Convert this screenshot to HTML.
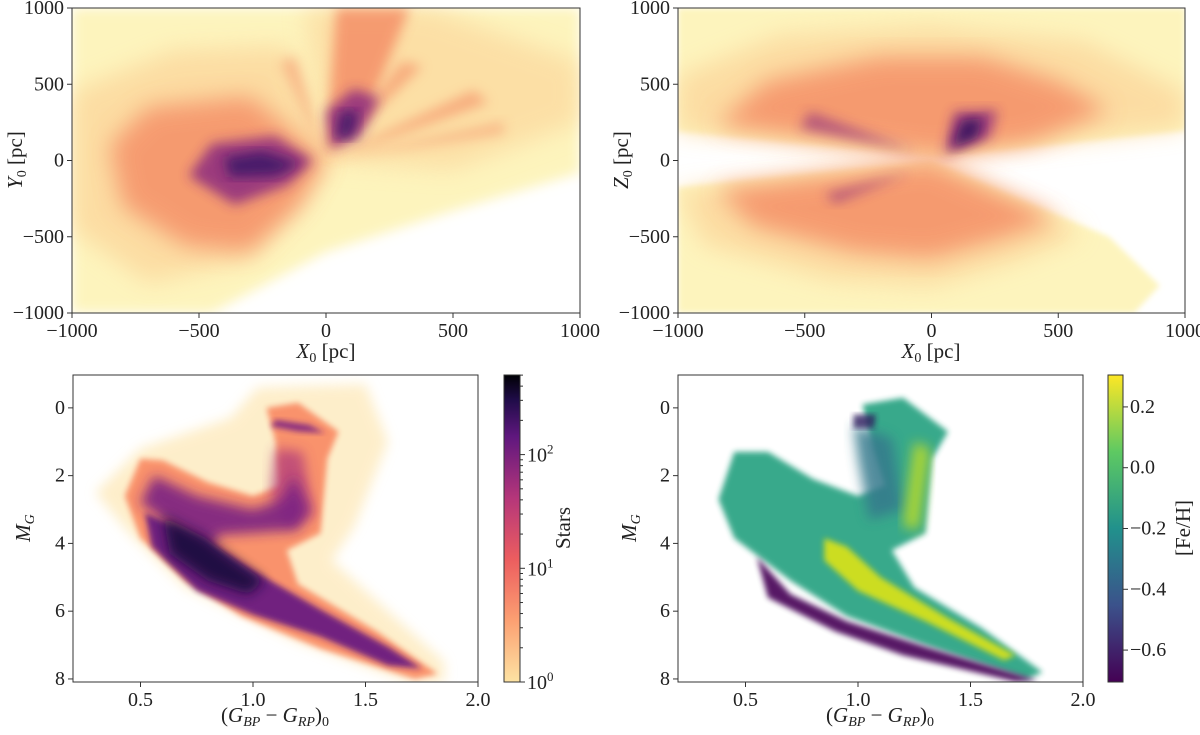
<!DOCTYPE html>
<html><head><meta charset="utf-8">
<style>
html,body{margin:0;padding:0;background:#fff;}
svg{display:block;font-family:"Liberation Serif",serif;}
</style></head>
<body>
<svg id="fig" width="1200" height="735" viewBox="0 0 1200 735" xmlns="http://www.w3.org/2000/svg">
<defs>
<filter id="b3" x="-20%" y="-20%" width="140%" height="140%"><feGaussianBlur stdDeviation="3"/></filter>
<filter id="b6" x="-20%" y="-20%" width="140%" height="140%"><feGaussianBlur stdDeviation="6"/></filter>
<filter id="b10" x="-20%" y="-20%" width="140%" height="140%"><feGaussianBlur stdDeviation="12"/></filter>
<linearGradient id="magma" x1="0" y1="1" x2="0" y2="0">
<stop offset="0" stop-color="#fde3a3"/><stop offset="0.2" stop-color="#fca072"/><stop offset="0.4" stop-color="#ec5d5f"/>
<stop offset="0.6" stop-color="#b5367a"/><stop offset="0.8" stop-color="#5f177e"/><stop offset="0.92" stop-color="#1f0c48"/><stop offset="1" stop-color="#000004"/>
</linearGradient>
<linearGradient id="viridis" x1="0" y1="1" x2="0" y2="0">
<stop offset="0" stop-color="#440154"/><stop offset="0.25" stop-color="#3b528b"/><stop offset="0.5" stop-color="#21918c"/>
<stop offset="0.75" stop-color="#5ec962"/><stop offset="1" stop-color="#fde725"/>
</linearGradient>
</defs>
</svg>
<script>
// ---------- data ----------
const xyTicks = [-1000,-500,0,500,1000];
const xyTickLabels = ["−1000","−500","0","500","1000"];
const cmdXTicks = [0.5,1.0,1.5,2.0];
const cmdXTickLabels = ["0.5","1.0","1.5","2.0"];
const cmdYTicks = [0,2,4,6,8];
const cmdYTickLabels = ["0","2","4","6","8"];
const fehTicks = [0.2,0.0,-0.2,-0.4,-0.6];
const fehTickLabels = ["0.2","0.0","−0.2","−0.4","−0.6"];
const starsDecades = [0,1,2];

// density regions (X,Y) in pc: [color, opacity, blur, vertices]
const xyRegions = [
 ["#fdf4bd",1,"b6",[[-1000,1000],[1000,1000],[1000,-80],[500,-330],[0,-600],[-450,-1000],[-1000,-1000]]],
 ["#fcd79c",0.8,"b10",[[0,0],[-150,750],[-600,720],[-1000,450],[-1000,-450],[-700,-800],[-300,-650]]],
 ["#fcd79c",0.7,"b10",[[0,0],[-80,1000],[400,1000],[1000,650],[1000,250],[500,-60]]],
 ["#f48a63",0.8,"b10",[[0,0],[-300,420],[-700,350],[-850,100],[-800,-300],[-550,-560],[-300,-600],[-100,-300]]],
 ["#f48a63",0.8,"b6",[[0,40],[40,1000],[330,1000],[160,300]]],
 ["#f48a63",0.6,"b6",[[0,0],[300,650],[380,620]]],
 ["#f48a63",0.6,"b6",[[0,0],[580,460],[640,380]]],
 ["#f48a63",0.5,"b6",[[0,0],[-180,650],[-120,680]]],
 ["#f48a63",0.5,"b6",[[0,0],[700,250],[700,180]]],
 ["#8c2a7f",0.85,"b6",[[-50,0],[-200,160],[-450,110],[-540,-100],[-360,-290],[-150,-160]]],
 ["#8c2a7f",0.85,"b6",[[20,80],[0,320],[110,470],[210,410],[130,150]]],
 ["#3a1468",0.85,"b6",[[-100,-20],[-250,60],[-400,20],[-380,-110],[-200,-100]]],
 ["#3a1468",0.85,"b6",[[40,150],[60,320],[130,320],[100,150]]]
];
// density regions (X,Z) in pc
const xzRegions = [
 ["#fdf4bd",1,"b3",[[-1000,1000],[1000,1000],[1000,195],[30,25],[-1000,190]]],
 ["#fdf4bd",1,"b3",[[-1000,-175],[0,-5],[700,-500],[900,-820],[800,-1000],[-1000,-1000]]],
 ["#fcd79c",0.8,"b10",[[-1000,550],[-600,820],[0,880],[600,780],[1000,450],[1000,220],[30,35],[-1000,195]]],
 ["#fcd79c",0.8,"b10",[[-1000,-200],[-900,-550],[-400,-780],[0,-820],[350,-650],[600,-480],[0,-10]]],
 ["#f48a63",0.8,"b10",[[-850,230],[-650,520],[-200,680],[200,680],[500,520],[700,330],[400,120],[30,35]]],
 ["#f48a63",0.8,"b10",[[-850,-190],[-700,-430],[-300,-600],[0,-640],[300,-500],[500,-380],[0,-10]]],
 ["#8c2a7f",0.8,"b6",[[50,40],[90,320],[260,330],[230,150]]],
 ["#8c2a7f",0.6,"b6",[[-60,60],[-480,320],[-520,210]]],
 ["#8c2a7f",0.6,"b6",[[-80,-80],[-420,-220],[-380,-280]]],
 ["#2a0f5c",0.85,"b6",[[80,80],[120,260],[200,280],[180,150]]]
];
// CMD density regions (colour, M_G)
const cmdRegions = [
 ["#fde3a7",0.6,"b6",[[0.3,2.5],[0.5,1.2],[0.9,0.3],[1.02,-0.6],[1.5,-0.7],[1.6,1.0],[1.45,3.5],[1.35,4.5],[1.85,7.5],[1.85,8.1],[1.7,8.1],[1.2,6.9],[0.7,5.3],[0.45,3.7]]],
 ["#f98e68",0.95,"b3",[[0.43,2.6],[0.5,1.5],[0.6,1.55],[0.8,2.2],[1.0,2.6],[1.12,2.3],[1.1,1.0],[1.06,0.0],[1.2,-0.15],[1.38,0.7],[1.33,1.5],[1.3,3.7],[1.15,4.2],[1.2,5.2],[1.55,6.6],[1.82,7.85],[1.72,8.0],[1.3,7.1],[0.95,6.15],[0.7,5.1],[0.5,3.85]]],
 ["#b5407a",0.8,"b6",[[1.1,1.2],[1.22,1.3],[1.27,3.2],[1.15,3.5],[1.08,2.6]]],
 ["#7a2283",0.9,"b6",[[0.5,2.8],[0.56,2.0],[0.75,2.6],[1.0,3.0],[1.13,2.7],[1.18,2.0],[1.25,3.0],[1.2,3.6],[0.85,3.75],[0.8,4.3]]],
 ["#6a1c81",0.95,"b3",[[0.52,3.1],[0.8,3.95],[1.0,4.8],[1.3,5.95],[1.6,7.05],[1.75,7.7],[1.6,7.6],[1.3,6.75],[1.0,6.1],[0.75,5.4],[0.55,4.1]]],
 ["#7a2283",0.85,"b3",[[1.1,0.35],[1.25,0.5],[1.32,0.75],[1.2,0.7],[1.08,0.55]]],
 ["#1a0c3f",0.95,"b6",[[0.6,3.2],[0.78,3.8],[0.92,4.5],[1.05,5.1],[0.98,5.5],[0.8,5.1],[0.63,4.3]]]
];
// CMD [Fe/H] regions (colour, M_G)
const fehRegions = [
 ["#2fa585",0.95,"b3",[[0.38,2.7],[0.45,1.3],[0.6,1.3],[0.8,2.1],[1.0,2.6],[1.12,2.3],[1.05,0.8],[1.02,-0.1],[1.2,-0.3],[1.4,0.7],[1.33,1.5],[1.3,3.7],[1.15,4.2],[1.25,5.3],[1.55,6.5],[1.82,7.8],[1.75,8.0],[1.3,7.0],[0.95,6.15],[0.7,5.1],[0.45,3.85]]],
 ["#35798c",0.85,"b6",[[0.98,0.5],[1.15,0.9],[1.2,3.0],[1.05,3.3],[1.0,1.5]]],
 ["#dde318",0.9,"b3",[[0.85,3.85],[0.95,4.1],[1.1,5.0],[1.4,6.2],[1.7,7.3],[1.65,7.45],[1.3,6.3],[1.0,5.4],[0.85,4.5]]],
 ["#c6e020",0.8,"b6",[[1.25,1.0],[1.32,1.2],[1.27,3.6],[1.2,3.5]]],
 ["#440154",0.9,"b3",[[0.55,4.4],[0.7,5.5],[0.95,6.3],[1.3,7.05],[1.8,8.05],[1.7,8.08],[1.2,7.3],[0.9,6.6],[0.6,5.6]]],
 ["#2d1a5e",0.8,"b3",[[0.98,0.2],[1.08,0.2],[1.07,0.6],[0.98,0.6]]]
];

// ---------- drawing ----------
const NS="http://www.w3.org/2000/svg";
const svg=document.getElementById('fig');
function el(tag,attrs,parent){const e=document.createElementNS(NS,tag);for(const k in attrs)e.setAttribute(k,attrs[k]);(parent||svg).appendChild(e);return e;}

function makePanel(name,px0,px1,py0,py1,xmin,xmax,ytop,ybot){
  const g=el('g',{});
  
  
  const sx=v=>px0+(v-xmin)/(xmax-xmin)*(px1-px0);
  const sy=v=>py0+(v-ytop)/(ybot-ytop)*(py1-py0);
  const cid='clip-'+name;
  const cp=el('clipPath',{id:cid},g);
  el('rect',{x:px0,y:py0,width:px1-px0,height:py1-py0},cp);
  const plot=el('g',{'clip-path':'url(#'+cid+')'},g);
  
  
  return {g,plot,sx,sy,px0,px1,py0,py1};
}
function drawRegions(P,regions){
  regions.forEach((r,i)=>{
    const pts=r[3].map(p=>P.sx(p[0]).toFixed(1)+','+P.sy(p[1]).toFixed(1)).join(' ');
    const poly=el('polygon',{points:pts,fill:r[0],opacity:r[1],filter:'url(#'+r[2]+')'},P.plot);
    
    
  });
}
function frame(P){
  const f=el('rect',{x:P.px0,y:P.py0,width:P.px1-P.px0,height:P.py1-P.py0,fill:'none',stroke:'#333',"stroke-width":1},P.g);
  
  
}
function xTicks(P,vals,labels){
  vals.forEach((v,i)=>{
    const x=P.sx(v);
    el('line',{x1:x,x2:x,y1:P.py1,y2:P.py1+5,stroke:'#333'},P.g);
    const t=el('text',{x:x,y:P.py1+24,'text-anchor':'middle','font-size':20,fill:'#222'},P.g);
    t.textContent=labels[i];
    
    
  });
}
function yTicks(P,vals,labels){
  vals.forEach((v,i)=>{
    const y=P.sy(v);
    el('line',{x1:P.px0-5,x2:P.px0,y1:y,y2:y,stroke:'#333'},P.g);
    const t=el('text',{x:P.px0-8,y:y+6,'text-anchor':'end','font-size':20,fill:'#222'},P.g);
    t.textContent=labels[i];
    
    
  });
}
function label(parent,x,y,html,rot,name){
  const t=el('text',{x:x,y:y,'text-anchor':'middle','font-size':21,fill:'#222'},parent);
  if(rot)t.setAttribute('transform','rotate(-90 '+x+' '+y+')');
  t.innerHTML=html;
  
  
}
const X0='<tspan font-style="italic">X</tspan><tspan font-size="14" dy="4">0</tspan><tspan dy="-4"> [pc]</tspan>';
const CMDX='(<tspan font-style="italic">G</tspan><tspan font-size="14" dy="4" font-style="italic">BP</tspan><tspan dy="-4"> − </tspan><tspan font-style="italic">G</tspan><tspan font-size="14" dy="4" font-style="italic">RP</tspan><tspan dy="-4">)</tspan><tspan font-size="14" dy="4">0</tspan>';
const MG='<tspan font-style="italic">M</tspan><tspan font-size="14" dy="4" font-style="italic">G</tspan>';

const A=makePanel('xy-panel',72,580,8,313,-1000,1000,1000,-1000);
drawRegions(A,xyRegions);frame(A);xTicks(A,xyTicks,xyTickLabels);yTicks(A,xyTicks,xyTickLabels);
label(A.g,326,358,X0,false,'x-axis-title');
label(A.g,22,160,'<tspan font-style="italic">Y</tspan><tspan font-size="14" dy="4">0</tspan><tspan dy="-4"> [pc]</tspan>',true,'y-axis-title');
const B=makePanel('xz-panel',678,1185,8,313,-1000,1000,1000,-1000);
drawRegions(B,xzRegions);frame(B);xTicks(B,xyTicks,xyTickLabels);yTicks(B,xyTicks,xyTickLabels);
label(B.g,931,358,X0,false,'x-axis-title');
label(B.g,628,160,'<tspan font-style="italic">Z</tspan><tspan font-size="14" dy="4">0</tspan><tspan dy="-4"> [pc]</tspan>',true,'y-axis-title');
const C=makePanel('cmd-counts-panel',73,478,375,682,0.2,2.0,-0.97,8.09);
drawRegions(C,cmdRegions);frame(C);xTicks(C,cmdXTicks,cmdXTickLabels);yTicks(C,cmdYTicks,cmdYTickLabels);
label(C.g,275,722,CMDX,false,'x-axis-title');
label(C.g,30,528,MG,true,'y-axis-title');
const D=makePanel('cmd-feh-panel',678,1083,375,682,0.2,2.0,-0.97,8.09);
drawRegions(D,fehRegions);frame(D);xTicks(D,cmdXTicks,cmdXTickLabels);yTicks(D,cmdYTicks,cmdYTickLabels);
label(D.g,880,722,CMDX,false,'x-axis-title');
label(D.g,636,528,MG,true,'y-axis-title');

const cb1=el('g',{});


el('rect',{x:504,y:375,width:16,height:307,fill:'url(#magma)',stroke:'#333'},cb1);
const logTop=2.7, cy1=v=>682-(v/logTop)*307;
starsDecades.forEach(d=>{
  const y=cy1(d);
  el('line',{x1:520,x2:525,y1:y,y2:y,stroke:'#333'},cb1);
  const t=el('text',{x:527,y:y+7,'font-size':20,fill:'#222'},cb1);
  t.innerHTML='10<tspan font-size="13" dy="-8">'+d+'</tspan>';
  
  
  for(let m=2;m<10;m++){const v=d+Math.log10(m);if(v<=logTop){const yy=cy1(v);el('line',{x1:520,x2:523,y1:yy,y2:yy,stroke:'#333'},cb1);}}
});
label(cb1,570,528,'Stars',true,'colorbar-title');

const cb2=el('g',{});


el('rect',{x:1108,y:375,width:15,height:307,fill:'url(#viridis)',stroke:'#333'},cb2);
const cy2=v=>375+(0.305-v)/1.01*307;
fehTicks.forEach((v,i)=>{
  const y=cy2(v);
  el('line',{x1:1123,x2:1128,y1:y,y2:y,stroke:'#333'},cb2);
  const t=el('text',{x:1130,y:y+6,'font-size':20,fill:'#222'},cb2);
  t.textContent=fehTickLabels[i];
  
  
});
label(cb2,1190,528,'[Fe/H]',true,'colorbar-title');
</script>
</body></html>
